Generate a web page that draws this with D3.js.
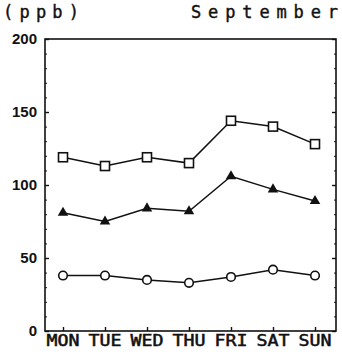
<!DOCTYPE html>
<html>
<head>
<meta charset="utf-8">
<script src="https://cdn.jsdelivr.net/npm/d3@7/dist/d3.min.js"></script>
<style>
  html, body { margin: 0; padding: 0; background: #fff; }
  svg { display: block; }
</style>
</head>
<body>
<script>
// Weekly mean concentrations, September
const days = ["MON", "TUE", "WED", "THU", "FRI", "SAT", "SUN"];
const squareSeries = [119, 113, 119, 115, 144, 140, 128];
const triangleSeries = [81, 75, 84, 82, 106, 97, 89];
const circleSeries = [38, 38, 35, 33, 37, 42, 38];
const yTicks = [0, 50, 100, 150, 200];
const unitLabel = "(ppb)";
const monthLabel = "September";

const W = 342, H = 352;
const frame = { left: 45, right: 336, top: 39, bottom: 331 };

const svg = d3.select("body").append("svg")
  .attr("width", W).attr("height", H);

const x = d3.scalePoint().domain(days)
  .range([63, 315]);
const y = d3.scaleLinear().domain([0, 200])
  .range([frame.bottom, frame.top]);

const ink = "#111";

// Frame
svg.append("rect")
  .attr("x", frame.left).attr("y", frame.top)
  .attr("width", frame.right - frame.left)
  .attr("height", frame.bottom - frame.top)
  .attr("fill", "none").attr("stroke", ink).attr("stroke-width", 1.6);

const minorValues = d3.range(10, 200, 10).filter(v => v % 50);

// Left axis: major ticks point inward, labels outside
svg.append("g").attr("transform", `translate(${frame.left},0)`)
  .call(d3.axisRight(y).tickValues(yTicks).tickSize(4).tickFormat(""))
  .call(g => g.select(".domain").remove())
  .call(g => g.selectAll("line").attr("stroke", ink).attr("stroke-width", 1.4));
svg.append("g").attr("transform", `translate(${frame.left},0)`)
  .call(d3.axisRight(y).tickValues(minorValues).tickSize(2).tickFormat(""))
  .call(g => g.select(".domain").remove())
  .call(g => g.selectAll("line").attr("stroke", ink).attr("stroke-width", 1));

// Right axis ticks pointing inward
svg.append("g").attr("transform", `translate(${frame.right},0)`)
  .call(d3.axisLeft(y).tickValues(yTicks).tickSize(4).tickFormat(""))
  .call(g => g.select(".domain").remove())
  .call(g => g.selectAll("line").attr("stroke", ink).attr("stroke-width", 1.4));
svg.append("g").attr("transform", `translate(${frame.right},0)`)
  .call(d3.axisLeft(y).tickValues(minorValues).tickSize(2).tickFormat(""))
  .call(g => g.select(".domain").remove())
  .call(g => g.selectAll("line").attr("stroke", ink).attr("stroke-width", 1));

// Y tick labels
svg.append("g").selectAll("text").data(yTicks).join("text")
  .attr("x", 37).attr("y", d => y(d) + 5)
  .attr("text-anchor", "end")
  .attr("font-family", "Liberation Sans, Arial, sans-serif")
  .attr("font-weight", "bold")
  .attr("font-size", 15)
  .attr("fill", ink)
  .text(d => d);

// Bottom axis: ticks point upward, day labels below
svg.append("g").attr("transform", `translate(0,${frame.bottom})`)
  .call(d3.axisTop(x).tickSize(4).tickFormat(""))
  .call(g => g.select(".domain").remove())
  .call(g => g.selectAll("line").attr("stroke", ink).attr("stroke-width", 1.4));

svg.append("g").selectAll("text").data(days).join("text")
  .attr("x", d => x(d)).attr("y", 346)
  .attr("text-anchor", "middle")
  .attr("font-family", "DejaVu Sans Mono, monospace")
  .attr("font-size", 15)
  .attr("textLength", 33)
  .attr("lengthAdjust", "spacingAndGlyphs")
  .attr("stroke", ink).attr("stroke-width", 0.5)
  .attr("fill", ink)
  .text(d => d);

// Header labels, spread to a fixed width
svg.append("text")
  .attr("x", 3).attr("y", 18)
  .attr("font-family", "DejaVu Sans Mono, monospace")
  .attr("font-size", 17)
  .attr("textLength", 76)
  .attr("lengthAdjust", "spacing")
  .attr("stroke", ink).attr("stroke-width", 0.4)
  .attr("fill", ink)
  .text(unitLabel);
svg.append("text")
  .attr("x", 191).attr("y", 18)
  .attr("font-family", "DejaVu Sans Mono, monospace")
  .attr("font-size", 17)
  .attr("textLength", 147)
  .attr("lengthAdjust", "spacing")
  .attr("stroke", ink).attr("stroke-width", 0.4)
  .attr("fill", ink)
  .text(monthLabel);

// Series lines and markers
const line = d3.line().x((d, i) => x(days[i])).y(d => y(d));

function drawSeries(values, shape) {
  svg.append("path").datum(values)
    .attr("d", line)
    .attr("fill", "none").attr("stroke", ink).attr("stroke-width", 1.5);
  const g = svg.append("g");
  values.forEach((v, i) => {
    const cx = x(days[i]), cy = y(v);
    if (shape === "square") {
      g.append("rect").attr("x", cx - 4.5).attr("y", cy - 4.5)
        .attr("width", 9).attr("height", 9)
        .attr("fill", "#fff").attr("stroke", ink).attr("stroke-width", 1.6);
    } else if (shape === "circle") {
      g.append("circle").attr("cx", cx).attr("cy", cy).attr("r", 4.3)
        .attr("fill", "#fff").attr("stroke", ink).attr("stroke-width", 1.6);
    } else {
      g.append("path")
        .attr("d", d3.symbol(d3.symbolTriangle, 48)())
        .attr("transform", `translate(${cx},${cy})`)
        .attr("fill", ink);
    }
  });
}

drawSeries(squareSeries, "square");
drawSeries(triangleSeries, "triangle");
drawSeries(circleSeries, "circle");
</script>
</body>
</html>
